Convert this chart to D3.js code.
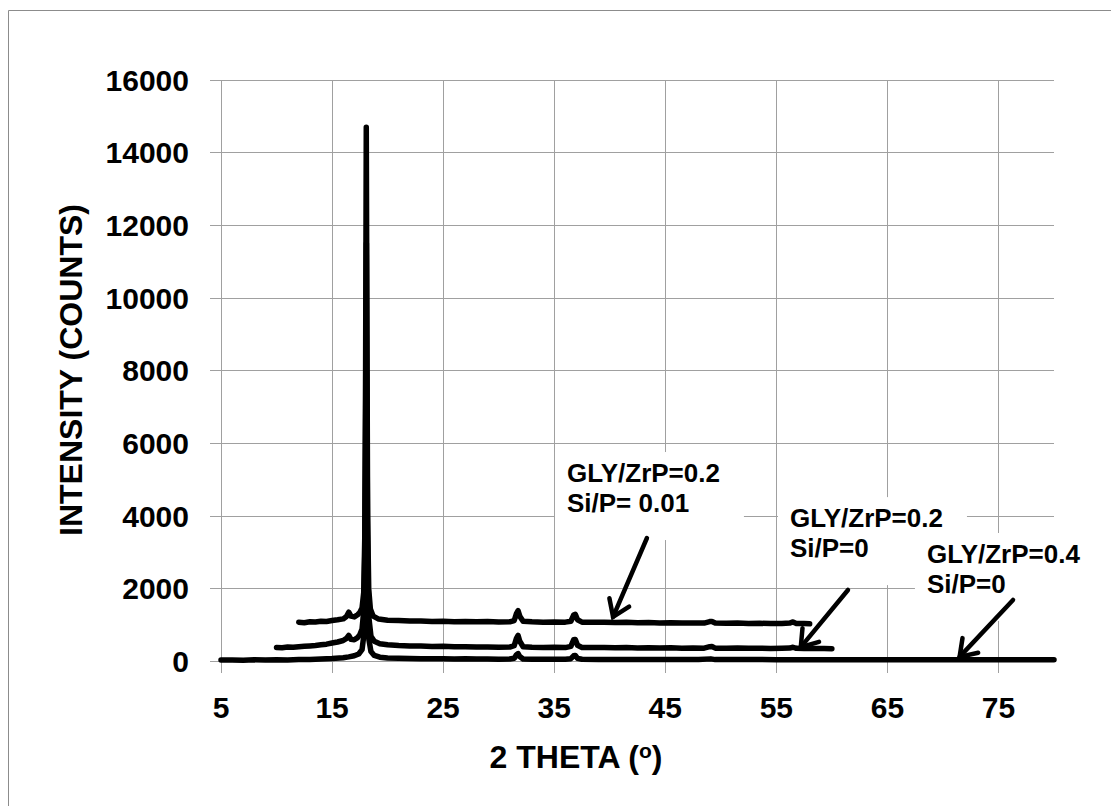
<!DOCTYPE html>
<html>
<head>
<meta charset="utf-8">
<script src="https://cdn.jsdelivr.net/npm/d3@7"></script>
<style>
  html, body { margin: 0; padding: 0; background: #fff; }
  svg { display: block; }
  text { font-family: "Liberation Sans", Arial, sans-serif; font-weight: bold; fill: #000; }
</style>
</head>
<body>
<svg id="chart" width="1111" height="806"></svg>
<script>
// X-ray diffraction patterns: [2θ (deg), intensity (counts)]
const glyZrP04 = [
  [5,42],[6,46],[7,39],[8,48],[9,43],[10,50],[11,47],[12,55],[13,60],[14,70],[15,85],[16,108],
  [16.5,130],[17,160],[17.4,210],[17.7,330],[17.85,700],[17.95,2000],[18.03,5000],[18.09,8000],
  [18.15,4200],[18.22,1500],[18.32,600],[18.5,280],[18.8,170],[19.3,120],[20,100],[21,90],[22,86],
  [23,80],[24,79],[25,75],[26,73],[27,75],[28,70],[29,72],[30,68],[31,70],[31.4,90],[31.6,190],
  [31.75,220],[31.9,140],[32.2,72],[33,68],[34,66],[35,68],[36,64],[36.5,80],[36.75,160],[36.9,170],
  [37.1,90],[37.5,63],[39,61],[40,60],[42,58],[44,57],[46,56],[48,55],[49.1,75],[49.5,55],[52,55],
  [55,54],[58,53],[61,53],[64,52],[67,52],[70,51],[73,51],[76,50],[80,50]
];

const glyZrP02 = [
  [10.0,390],[10.5,382],[11,400],[11.5,396],[12,410],[12.5,420],[13,432],[13.5,445],[14,462],
  [14.5,480],[15,510],[15.5,540],[16,580],[16.3,640],[16.5,720],[16.7,612],[17.0,600],[17.3,660],
  [17.5,740],[17.7,900],[17.85,1400],[17.95,3000],[18.03,7000],[18.09,11500],[18.15,6000],
  [18.22,2500],[18.32,1200],[18.5,700],[18.8,560],[19.3,490],[20,462],[21,442],[22,430],[23,426],
  [24,415],[25,420],[26,406],[27,410],[28,400],[29,405],[30,396],[31,400],[31.4,440],[31.6,640],
  [31.75,720],[31.9,560],[32.2,410],[33,396],[34,390],[35,395],[36,386],[36.5,420],[36.75,600],
  [36.9,610],[37.1,450],[37.5,390],[38.5,386],[39.5,390],[40.5,380],[41.5,386],[42.5,376],
  [43.5,380],[44.5,375],[45.5,378],[46.5,370],[47.5,375],[48.5,370],[49.0,410],[49.2,415],
  [49.5,370],[50.5,368],[51.5,372],[52.5,365],[53.5,368],[54.5,362],[55.5,366],[56.2,372],
  [56.5,395],[56.8,365],[57.5,362],[58.5,360],[59.3,358],[60.0,355]
];

const glyZrP02Si001 = [
  [12.0,1085],[12.5,1070],[13.0,1095],[13.5,1090],[14.0,1110],[14.5,1105],[15.0,1130],[15.5,1150],
  [16.0,1175],[16.3,1240],[16.5,1360],[16.7,1250],[17.0,1230],[17.3,1290],[17.5,1350],[17.7,1480],
  [17.85,1900],[17.95,3500],[18.02,8000],[18.08,14700],[18.14,9000],[18.2,4000],[18.3,2000],
  [18.45,1450],[18.7,1250],[19.2,1170],[20,1140],[21,1130],[22,1115],[23,1120],[24,1105],[25,1110],
  [26,1095],[27,1105],[28,1095],[29,1100],[30,1090],[31,1095],[31.4,1130],[31.6,1320],[31.75,1400],
  [31.9,1250],[32.2,1110],[33,1095],[34,1085],[35,1090],[36,1085],[36.5,1110],[36.75,1280],
  [36.9,1300],[37.1,1150],[37.5,1085],[38.5,1080],[39.5,1085],[40.5,1075],[41.5,1080],[42.5,1070],
  [43.5,1075],[44.5,1065],[45.5,1070],[46.5,1060],[47.5,1065],[48.5,1060],[49.0,1100],[49.2,1105],
  [49.5,1060],[50.5,1055],[51.5,1060],[52.5,1050],[53.5,1055],[54.5,1045],[55.5,1050],[56.2,1060],
  [56.5,1090],[56.8,1050],[57.5,1045],[58.0,1040]
];

const seriesList = [glyZrP04, glyZrP02, glyZrP02Si001];

// Axis ticks
const xTicks = [5, 15, 25, 35, 45, 55, 65, 75];
const yTicks = [0, 2000, 4000, 6000, 8000, 10000, 12000, 14000, 16000];
const xDomain = [5, 80];
const yDomain = [0, 16000];

// Callouts: text lines, text anchor and arrow (start -> tip) in data units
const calloutLines = [
  ["GLY/ZrP=0.2", "Si/P= 0.01"],
  ["GLY/ZrP=0.2", "Si/P=0"],
  ["GLY/ZrP=0.4", "Si/P=0"]
];
const calloutAnchors = [[36.15, 4940], [56.23, 3700], [68.56, 2713]];
const arrowStarts = [[43.35, 3400], [61.45, 1970], [76.31, 1695]];
const arrowTips = [[40.3, 1230], [57.2, 400], [71.5, 130]];

const svg = d3.select("#chart");

const x = d3.scaleLinear().domain(xDomain).range([221, 1054]);
const y = d3.scaleLinear().domain(yDomain).range([661.6, 80]);

// Outer frame
svg.append("path")
  .attr("d", "M8.5,806 V10.5 H1111")
  .attr("fill", "none").attr("stroke", "#8c8c8c").attr("stroke-width", 1);

// Gridlines (with short outward tick extensions)
const grid = svg.append("g").attr("stroke", "#a0a0a0").attr("stroke-width", 1).attr("shape-rendering", "crispEdges");
grid.selectAll("line.h").data(yTicks).join("line")
  .attr("class", "h")
  .attr("x1", 210).attr("x2", x(xDomain[1]))
  .attr("y1", d => y(d)).attr("y2", d => y(d));
grid.selectAll("line.v").data(xTicks).join("line")
  .attr("class", "v")
  .attr("x1", d => x(d)).attr("x2", d => x(d))
  .attr("y1", y(yDomain[1])).attr("y2", y(0) + 11);

// Tick labels
svg.append("g").selectAll("text").data(yTicks).join("text")
  .attr("x", 189).attr("y", d => y(d))
  .attr("text-anchor", "end").attr("dominant-baseline", "central")
  .attr("font-size", 30)
  .text(d => d);
svg.append("g").selectAll("text").data(xTicks).join("text")
  .attr("x", d => x(d)).attr("y", 707)
  .attr("text-anchor", "middle").attr("dominant-baseline", "central")
  .attr("font-size", 30)
  .text(d => d);

// Axis titles
svg.append("text")
  .attr("transform", "translate(71,370) rotate(-90)")
  .attr("text-anchor", "middle").attr("dominant-baseline", "central")
  .attr("font-size", 32)
  .text("INTENSITY (COUNTS)");
const xt = svg.append("text")
  .attr("x", 576).attr("y", 768)
  .attr("text-anchor", "middle")
  .attr("font-size", 32);
xt.append("tspan").text("2 THETA (");
xt.append("tspan").attr("font-size", 21).attr("dy", -10).text("o");
xt.append("tspan").attr("dy", 10).text(")");

// Callout text boxes (white fill hides gridlines behind the labels)
const callouts = svg.append("g");
calloutLines.forEach((lines, i) => {
  const ax = x(calloutAnchors[i][0]);
  const ay = y(calloutAnchors[i][1]);
  const g = callouts.append("g");
  const rect = g.append("rect").attr("fill", "#fff");
  const t = g.append("text").attr("font-size", 26);
  lines.forEach((s, j) => {
    t.append("tspan").attr("x", ax).attr("y", ay + j * 30).text(s);
  });
  const bb = t.node().getBBox();
  rect.attr("x", ax - 12).attr("y", ay - 30)
    .attr("width", bb.width + 36).attr("height", 60 + 28);
});

// Diffraction curves
const line = d3.line().x(d => x(d[0])).y(d => y(d[1]));
svg.append("g").selectAll("path").data(seriesList).join("path")
  .attr("d", line)
  .attr("fill", "none")
  .attr("stroke", "#000")
  .attr("stroke-width", 5.5)
  .attr("stroke-linejoin", "round")
  .attr("stroke-linecap", "round");

// Arrows
const arrows = svg.append("g").attr("stroke", "#000").attr("stroke-width", 4.5)
  .attr("stroke-linecap", "round").attr("fill", "none");
arrowStarts.forEach((s, i) => {
  const x0 = x(s[0]), y0 = y(s[1]);
  const x1 = x(arrowTips[i][0]), y1 = y(arrowTips[i][1]);
  const ang = Math.atan2(y0 - y1, x0 - x1);
  const len = 19, spread = 0.6;
  arrows.append("line").attr("x1", x0).attr("y1", y0).attr("x2", x1).attr("y2", y1);
  arrows.append("path").attr("d",
    `M${x1 + len * Math.cos(ang - spread)},${y1 + len * Math.sin(ang - spread)}` +
    `L${x1},${y1}` +
    `L${x1 + len * Math.cos(ang + spread)},${y1 + len * Math.sin(ang + spread)}`)
    .attr("stroke-linejoin", "miter");
});
</script>
</body>
</html>
